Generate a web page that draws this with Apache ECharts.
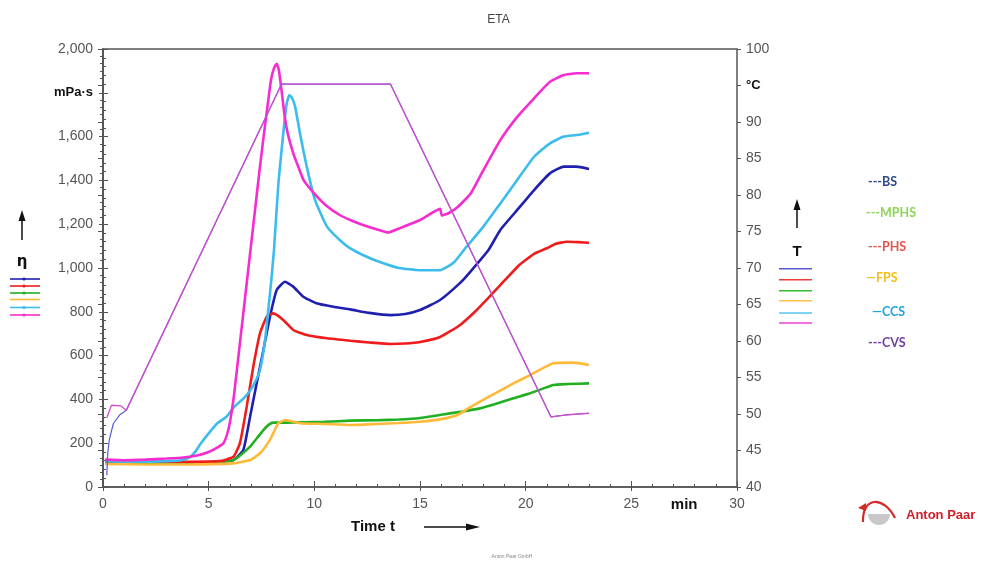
<!DOCTYPE html>
<html><head><meta charset="utf-8">
<script src="https://cdn.jsdelivr.net/npm/echarts@6/dist/echarts.min.js"></script>
<style>html,body{margin:0;padding:0;background:#fff;}#c{width:997px;height:565px;}</style>
</head><body><div id="c"></div>
<script>
// ---- data (time in min, viscosity in mPa·s, temperature in °C) ----
const seriesNames = ['BS', 'MPHS', 'PHS', 'FPS', 'CCS', 'CVS'];
const seriesColors = ['#1f1fb0', '#22b022', '#ee1c1c', '#ffb938', '#3cbcec', '#f52ccf'];
const legendTextColors = ['#2e4a8a', '#8fd45a', '#e0564e', '#f5be1d', '#1ea5dd', '#7040a0'];

const etaBS = [[0.1,113],[2,110],[4,112],[5.5,115],[6.17,123],[6.64,169],[6.96,321],[7.27,473],[7.59,626],[7.9,778],[8.22,900],[8.61,937],[9.0,915],[9.48,869],[10.1,839],[10.9,823],[11.7,811],[12.6,795],[13.6,785],[14.3,790],[15.0,808],[15.95,854],[16.9,932],[17.4,985],[18.24,1082],[18.8,1174],[19.6,1265],[20.4,1356],[21.15,1432],[21.8,1463],[22.4,1463],[23.0,1452]];
const etaMPHS = [[0.1,112],[2,110],[4,112],[5.5,115],[6.17,123],[6.5,145],[6.96,184],[7.3,225],[7.59,260],[7.85,285],[8.06,294],[8.69,294],[9.5,296],[10.5,298],[11.7,303],[13,305],[14,308],[15,315],[16,330],[17,345],[17.84,359],[18.6,380],[19.42,405],[20.21,428],[21.31,466],[22.0,470],[23.0,473]];
const etaPHS = [[0.1,118],[2,115],[4,115],[5.5,118],[6.17,138],[6.48,200],[6.8,367],[7.11,549],[7.43,702],[7.75,778],[8.06,793],[8.53,763],[9.0,717],[9.64,694],[10.6,679],[11.7,668],[12.6,660],[13.6,653],[14.3,655],[15.0,662],[15.95,685],[16.9,740],[17.6,800],[18.2,860],[18.8,922],[19.7,1014],[20.4,1065],[21.0,1090],[21.4,1110],[21.94,1120],[22.5,1118],[23.0,1115]];
const etaFPS = [[0.1,105],[2,103],[4,103],[6.17,108],[6.96,123],[7.43,154],[7.9,215],[8.15,265],[8.3,291],[8.61,306],[9.32,291],[10.5,288],[11.69,283],[13,288],[14,292],[15,298],[16,310],[16.8,330],[17.3,360],[17.84,390],[18.6,430],[19.42,473],[20.21,511],[21.31,565],[22.26,568],[23.0,557]];
const etaCCS = [[0.1,118],[1,115],[2,115],[3,118],[3.7,122],[4.1,135],[4.4,165],[4.6,195],[5.0,245],[5.4,290],[5.85,322],[6.2,365],[6.6,400],[6.96,440],[7.25,490],[7.43,534],[7.67,671],[7.82,808],[7.95,930],[8.09,1082],[8.3,1387],[8.53,1615],[8.69,1750],[8.82,1790],[8.95,1775],[9.09,1737],[9.32,1615],[9.64,1463],[10.03,1311],[10.6,1189],[11.2,1128],[11.7,1090],[12.4,1055],[13.1,1027],[14.0,1000],[15.0,990],[15.95,990],[16.6,1025],[17.2,1097],[18.0,1189],[18.8,1295],[19.6,1402],[20.4,1508],[21.15,1569],[21.8,1600],[22.4,1607],[23.0,1618]];
const etaCVS = [[0.1,125],[1,122],[2,125],[3,130],[3.8,135],[4.5,145],[5.0,160],[5.4,180],[5.7,200],[5.9,250],[6.05,320],[6.2,420],[6.4,590],[6.6,760],[6.8,930],[7.0,1100],[7.2,1270],[7.4,1440],[7.6,1600],[7.8,1750],[7.95,1860],[8.1,1915],[8.22,1932],[8.32,1905],[8.45,1810],[8.6,1690],[8.75,1610],[9.0,1525],[9.25,1460],[9.5,1400],[10.0,1340],[10.6,1282],[11.2,1242],[11.7,1219],[12.2,1200],[12.9,1178],[13.5,1162],[14.0,1180],[15.0,1219],[15.95,1270],[16.03,1240],[16.35,1250],[16.8,1280],[17.4,1340],[18.0,1447],[18.8,1584],[19.6,1690],[20.4,1775],[21.15,1850],[21.8,1881],[22.4,1889],[23.0,1889]];
const etaData = [etaBS, etaMPHS, etaPHS, etaFPS, etaCCS, etaCVS];

const tempBS = [[0.18,41.6],[0.22,44.5],[0.3,46.5],[0.49,48.7],[0.8,49.9],[1.1,50.5],[8.45,95.2],[13.6,95.2],[21.2,49.6],[22.0,49.9],[23.0,50.1]];
const tempMain = [[0.18,49.5],[0.4,51.2],[0.85,51.1],[1.1,50.5],[8.45,95.2],[13.6,95.2],[21.2,49.6],[22.0,49.9],[23.0,50.1]];

const xTicks = {min: 0, max: 30, interval: 5};
const etaTicks = {min: 0, max: 2000, interval: 200, unitAt: 1800, unit: 'mPa·s'};
const tempTicks = {min: 40, max: 100, interval: 5, unitAt: 95, unit: '°C'};
const xUnit = {at: 27.5, text: 'min'};

// ---- chart ----
const fmt = v => String(v).replace(/\B(?=(\d{3})+(?!\d))/g, ',');
const axisCol = '#555';
const labelStyle = {color: '#555', fontSize: 14, fontFamily: 'Liberation Sans, Arial, sans-serif'};
const unitRich = {u: {fontWeight: 'bold', color: '#111', fontSize: 13, fontFamily: 'Liberation Sans, Arial, sans-serif'}};

const chart = echarts.init(document.getElementById('c'), null, {renderer: 'canvas'});

const series = [];
etaData.forEach((d, i) => {
  series.push({
    name: seriesNames[i], type: 'line', data: d, xAxisIndex: 0, yAxisIndex: 0,
    showSymbol: false, symbol: 'none', smooth: 0.15,
    lineStyle: {color: seriesColors[i], width: 2.6}, z: 3 + i, animation: false
  });
});
series.push({name: 'T BS', type: 'line', data: tempBS, xAxisIndex: 0, yAxisIndex: 1, symbol: 'none', smooth: false,
  lineStyle: {color: '#5a5ad6', width: 1.2}, z: 20, animation: false});
series.push({name: 'T', type: 'line', data: tempMain, xAxisIndex: 0, yAxisIndex: 1, symbol: 'none', smooth: false,
  lineStyle: {color: '#cc4fcc', width: 1.3}, z: 21, animation: false});

const option = {
  backgroundColor: '#fff',
  animation: false,
  title: {text: 'ETA', left: 'center', top: 9, textStyle: {fontSize: 12, fontWeight: 'normal', color: '#444', fontFamily: 'Liberation Sans, Arial, sans-serif'}},
  grid: {left: 103, right: 260, top: 49, bottom: 78, show: true, borderColor: axisCol, borderWidth: 1.5, containLabel: false},
  xAxis: [
    {type: 'value', min: xTicks.min, max: xTicks.max, interval: xTicks.interval, position: 'bottom',
     axisLine: {show: true, lineStyle: {color: axisCol, width: 1.5}},
     axisTick: {show: true, inside: true, length: 6, lineStyle: {color: axisCol}},
     minorTick: {show: true, splitNumber: 5, length: 3, lineStyle: {color: axisCol}},
     splitLine: {show: false},
     axisLabel: Object.assign({margin: 10}, labelStyle)},
    {type: 'value', min: xTicks.min, max: xTicks.max, interval: xTicks.interval, position: 'bottom',
     axisLine: {show: false}, axisTick: {show: true, inside: false, length: 4, lineStyle: {color: axisCol}},
     splitLine: {show: false}, axisLabel: {show: false}}
  ],
  yAxis: [
    {type: 'value', min: etaTicks.min, max: etaTicks.max, interval: etaTicks.interval, position: 'left',
     axisLine: {show: true, lineStyle: {color: axisCol, width: 1.5}},
     axisTick: {show: true, inside: true, length: 5, lineStyle: {color: axisCol}},
     minorTick: {show: true, splitNumber: 5, length: 3, lineStyle: {color: axisCol}},
     splitLine: {show: false},
     axisLabel: Object.assign({margin: 10, rich: unitRich,
       formatter: v => v === etaTicks.unitAt ? '{u|' + etaTicks.unit + '}' : fmt(v)}, labelStyle)},
    {type: 'value', min: tempTicks.min, max: tempTicks.max, interval: tempTicks.interval, position: 'right',
     axisLine: {show: true, lineStyle: {color: axisCol, width: 1.5}},
     axisTick: {show: true, inside: true, length: 5, lineStyle: {color: axisCol}},
     minorTick: {show: true, splitNumber: 5, length: 3, lineStyle: {color: axisCol}},
     splitLine: {show: false},
     axisLabel: Object.assign({margin: 9, rich: unitRich,
       formatter: v => v === tempTicks.unitAt ? '{u|' + tempTicks.unit + '}' : String(v)}, labelStyle)},
    {type: 'value', min: etaTicks.min, max: etaTicks.max, interval: etaTicks.interval, position: 'left',
     axisLine: {show: false}, axisTick: {show: true, inside: false, length: 4, lineStyle: {color: axisCol}},
     splitLine: {show: false}, axisLabel: {show: false}},
    {type: 'value', min: tempTicks.min, max: tempTicks.max, interval: tempTicks.interval, position: 'right',
     axisLine: {show: false}, axisTick: {show: true, inside: false, length: 4, lineStyle: {color: axisCol}},
     splitLine: {show: false}, axisLabel: {show: false}}
  ],
  series: series
};
chart.setOption(option);

// ---- annotations ----
const g = [];
const boldFont = 'bold 15px "Liberation Sans", Arial, sans-serif';
function upArrow(x, y1, y2) {
  g.push({type: 'line', shape: {x1: x, y1: y1, x2: x, y2: y2 + 8}, style: {stroke: '#111', lineWidth: 1.5}});
  g.push({type: 'polygon', shape: {points: [[x, y2], [x - 3.5, y2 + 11], [x + 3.5, y2 + 11]]}, style: {fill: '#111'}});
}
// eta label + arrow + line keys (order: BS, PHS, MPHS, FPS, CCS, CVS)
upArrow(22, 240, 210);
g.push({type: 'text', style: {text: 'η', x: 22, y: 262, font: 'bold 15px "DejaVu Sans", sans-serif', fill: '#111', align: 'center', verticalAlign: 'middle'}});
const etaKeyOrder = [0, 2, 1, 3, 4, 5];
const etaKeyY = [279, 286, 293, 299.5, 307.5, 315];
etaKeyY.forEach((y, k) => {
  const i = etaKeyOrder[k];
  g.push({type: 'line', shape: {x1: 10, y1: y, x2: 40, y2: y}, style: {stroke: seriesColors[i], lineWidth: 1.6}});
  if (i !== 3) g.push({type: 'circle', shape: {cx: 24, cy: y, r: 1.6}, style: {fill: seriesColors[i]}});
});
// T label + arrow + line keys
upArrow(797, 228, 199);
g.push({type: 'text', style: {text: 'T', x: 797, y: 252, font: 'bold 15px "Liberation Sans", Arial, sans-serif', fill: '#111', align: 'center', verticalAlign: 'middle'}});
const tKeyY = [268.7, 279.7, 290.7, 300.7, 313, 323];
const tKeyCols = ['#5a5ad6', '#ee3a3a', '#33bb33', '#ffc04d', '#55c4f0', '#f040d0'];
tKeyY.forEach((y, i) => {
  g.push({type: 'line', shape: {x1: 779, y1: y, x2: 812, y2: y}, style: {stroke: tKeyCols[i], lineWidth: 1.6}});
});
// sample legend
const sampleLegendY = [182, 213, 247, 278, 312, 343];
const sampleLegendX = [868, 866, 868, 866, 872, 868];
seriesNames.forEach((n, i) => {
  const prefix = (n === 'FPS' || n === 'CCS') ? '—' : '---';
  g.push({type: 'text', style: {text: prefix + n, x: sampleLegendX[i], y: sampleLegendY[i], font: 'bold 12.5px Lato, "Open Sans", sans-serif', fill: legendTextColors[i], verticalAlign: 'middle'}});
});
// x-axis title + arrow
g.push({type: 'text', style: {text: 'Time t', x: 373, y: 527, font: boldFont, fill: '#111', align: 'center', verticalAlign: 'middle'}});
g.push({type: 'line', shape: {x1: 424, y1: 527, x2: 470, y2: 527}, style: {stroke: '#111', lineWidth: 1.5}});
g.push({type: 'polygon', shape: {points: [[480, 527], [466, 523.5], [466, 530.5]]}, style: {fill: '#111'}});
// unit "min" on x axis
const minPos = chart.convertToPixel({xAxisIndex: 0}, xUnit.at);
g.push({type: 'text', style: {text: xUnit.text, x: minPos, y: 505, font: boldFont, fill: '#111', align: 'center', verticalAlign: 'middle'}});
// footer
g.push({type: 'text', style: {text: 'Anton Paar GmbH', x: 512, y: 557, font: '5px "Liberation Sans", Arial, sans-serif', fill: '#888', align: 'center', verticalAlign: 'middle'}});
// logo
g.push({type: 'sector', shape: {cx: 879, cy: 514, r0: 0, r: 11, startAngle: 0, endAngle: Math.PI}, style: {fill: '#c8c8c8'}});
g.push({type: 'bezierCurve', shape: {x1: 863, y1: 522, cpx1: 862, cpy1: 496, x2: 895, y2: 518, cpx2: 884, cpy2: 496}, style: {stroke: '#d42a2a', lineWidth: 2.2, fill: null}});
g.push({type: 'polygon', shape: {points: [[858, 508], [866, 503], [866, 511]]}, style: {fill: '#d42a2a'}});
g.push({type: 'text', style: {text: 'Anton Paar', x: 906, y: 515, font: 'bold 13px "Liberation Sans", Arial, sans-serif', fill: '#d0202a', verticalAlign: 'middle'}});

chart.setOption({graphic: {elements: g}});
</script></body></html>
